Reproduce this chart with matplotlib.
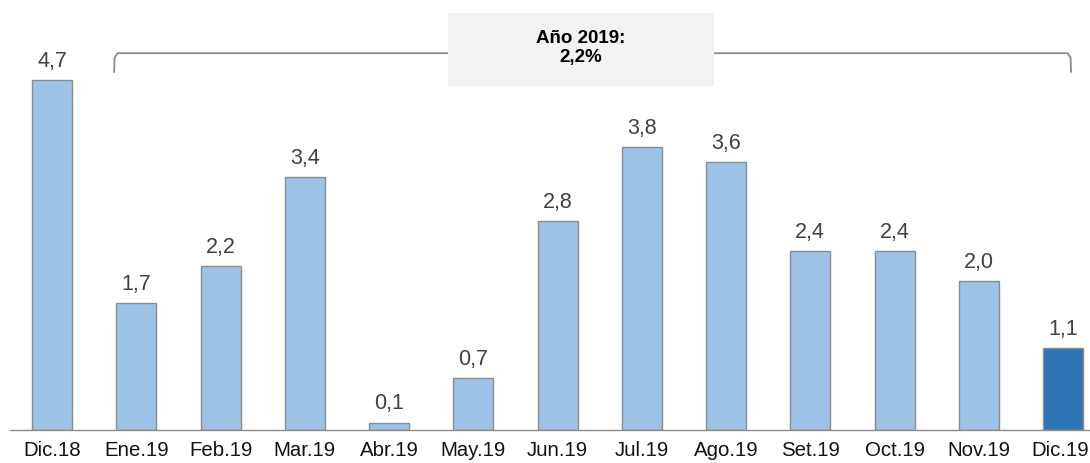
import matplotlib.pyplot as plt
import matplotlib.transforms as mtransforms

meses = ["Dic.18", "Ene.19", "Feb.19", "Mar.19", "Abr.19", "May.19", "Jun.19",
         "Jul.19", "Ago.19", "Set.19", "Oct.19", "Nov.19", "Dic.19"]
valores = [4.7, 1.7, 2.2, 3.4, 0.1, 0.7, 2.8, 3.8, 3.6, 2.4, 2.4, 2.0, 1.1]
colores = ["#9DC3E6"] * 12 + ["#2E75B6"]
titulo_caja = "Año 2019:\n2,2%"

plt.rcParams['font.family'] = ['Liberation Sans', 'DejaVu Sans']

fig = plt.figure(figsize=(10.9, 4.63), dpi=100)
ax = fig.add_axes([10 / 1090, 1 - 430 / 463, 1 - 10 / 1090, 430 / 463])

x = list(range(len(meses)))
ax.bar(x, valores, width=0.475, color=colores, edgecolor="#8c8c8c", linewidth=1.0)

for xi, v in zip(x, valores):
    ax.text(xi, v + 0.11, f"{v:.1f}".replace(".", ","), ha="center", va="bottom",
            fontsize=15.5, color="#404040")

ax.set_xlim(-0.5, 12.32)
ax.set_ylim(0, 430 / 74.47)
ax.set_xticks(x)
ax.set_xticklabels(meses, fontsize=14.7, color="#111111")
ax.tick_params(axis="x", length=0, pad=8)
ax.set_yticks([])
for s in ["top", "right", "left"]:
    ax.spines[s].set_visible(False)
ax.spines["bottom"].set_color("#8c8c8c")
ax.spines["bottom"].set_linewidth(1.0)

# la ultima etiqueta toca el borde: se corre un poco a la izquierda
ultima = ax.get_xticklabels()[-1]
ultima.set_transform(ultima.get_transform() +
                     mtransforms.ScaledTranslation(-3 / 100, 0, fig.dpi_scale_trans))

# llave superior
bx0, bx1, by_top, by_bot = 0.736, 12.095, 5.06, 4.81
ax.plot([bx0, bx0 + 0.005, bx0 + 0.04, bx1 - 0.04, bx1 - 0.005, bx1],
        [by_bot, by_top - 0.06, by_top, by_top, by_top - 0.06, by_bot],
        color="#8c8c8c", linewidth=1.3, clip_on=False, zorder=2)

# caja con el total anual
ax.add_patch(plt.Rectangle((4.70, 4.62), 7.86 - 4.70, 5.60 - 4.62, facecolor="#F2F2F2",
                           edgecolor="none", clip_on=False, zorder=3))
ax.text((4.70 + 7.86) / 2, (4.62 + 5.60) / 2 + 0.02, titulo_caja, ha="center", va="center",
        fontsize=13.5, fontweight="bold", color="#000000", linespacing=1.15, zorder=4)

fig.savefig("out.png", dpi=100)
